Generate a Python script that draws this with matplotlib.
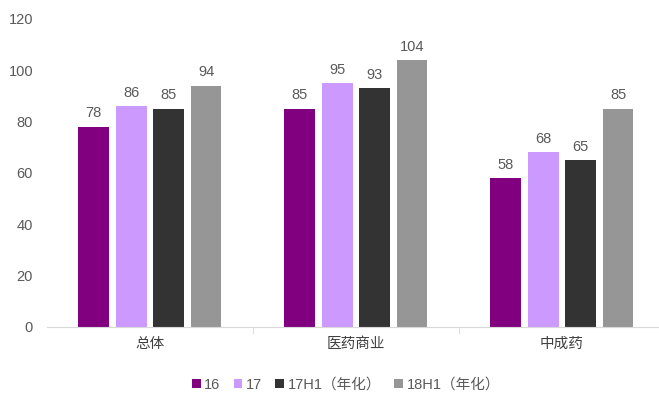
import matplotlib
matplotlib.use("Agg")
import matplotlib.pyplot as plt
import numpy as np

plt.rcParams['font.family'] = ['Liberation Sans', 'Noto Sans CJK SC', 'DejaVu Sans']

categories = ["总体", "医药商业", "中成药"]
series_names = ["16", "17", "17H1（年化）", "18H1（年化）"]
v16 = [78, 85, 58]
v17 = [86, 95, 68]
v17h1 = [85, 93, 65]
v18h1 = [94, 104, 85]
yticks = [0, 20, 40, 60, 80, 100, 120]
colors = ["#800080", "#CC99FF", "#333333", "#969696"]

W, H = 659, 397
fig = plt.figure(figsize=(W/100, H/100), dpi=100)
ax = fig.add_axes([47/W, 1-327/H, 612/W, 308/H])

x = np.arange(len(categories))
offsets = [-0.274, -0.09, 0.09, 0.272]
bw = 0.15
for vals, off, c, name in zip([v16, v17, v17h1, v18h1], offsets, colors, series_names):
    bars = ax.bar(x + off, vals, bw, color=c, label=name, zorder=2)
    for b, v in zip(bars, vals):
        ax.text(b.get_x() + b.get_width()/2, v + 2.5, str(v), ha='center', va='bottom',
                fontsize=10.5, color='#595959')

ax.set_ylim(0, 120)
ax.set_xlim(-0.5, 2.5 - 6/206)
ax.set_yticks(yticks)
ax.set_yticklabels([str(t) for t in yticks], fontsize=10.5, color='#595959')
ax.tick_params(axis='y', length=0, pad=10)
ax.set_xticks(x)
ax.set_xticklabels(categories, fontsize=10.5, color='#404040', family=['Noto Sans CJK SC', 'DejaVu Sans'])
ax.tick_params(axis='x', length=0, pad=7)
ax.set_xticks([0.5, 1.5], minor=True)
ax.tick_params(axis='x', which='minor', length=5, color='#D9D9D9', direction='out')
for s in ['top', 'right', 'left']:
    ax.spines[s].set_visible(False)
ax.spines['bottom'].set_color('#D9D9D9')

leg = fig.legend(loc='center', bbox_to_anchor=(346/W, 1-385/H), ncol=4, frameon=False,
                 handlelength=0.6, handleheight=0.6, handletextpad=0.25, columnspacing=0.9,
                 prop={'family': ['Liberation Sans', 'Noto Sans CJK SC'], 'size': 10.5})
for t in leg.get_texts():
    t.set_color('#595959')

fig.savefig("out.png", dpi=100)
